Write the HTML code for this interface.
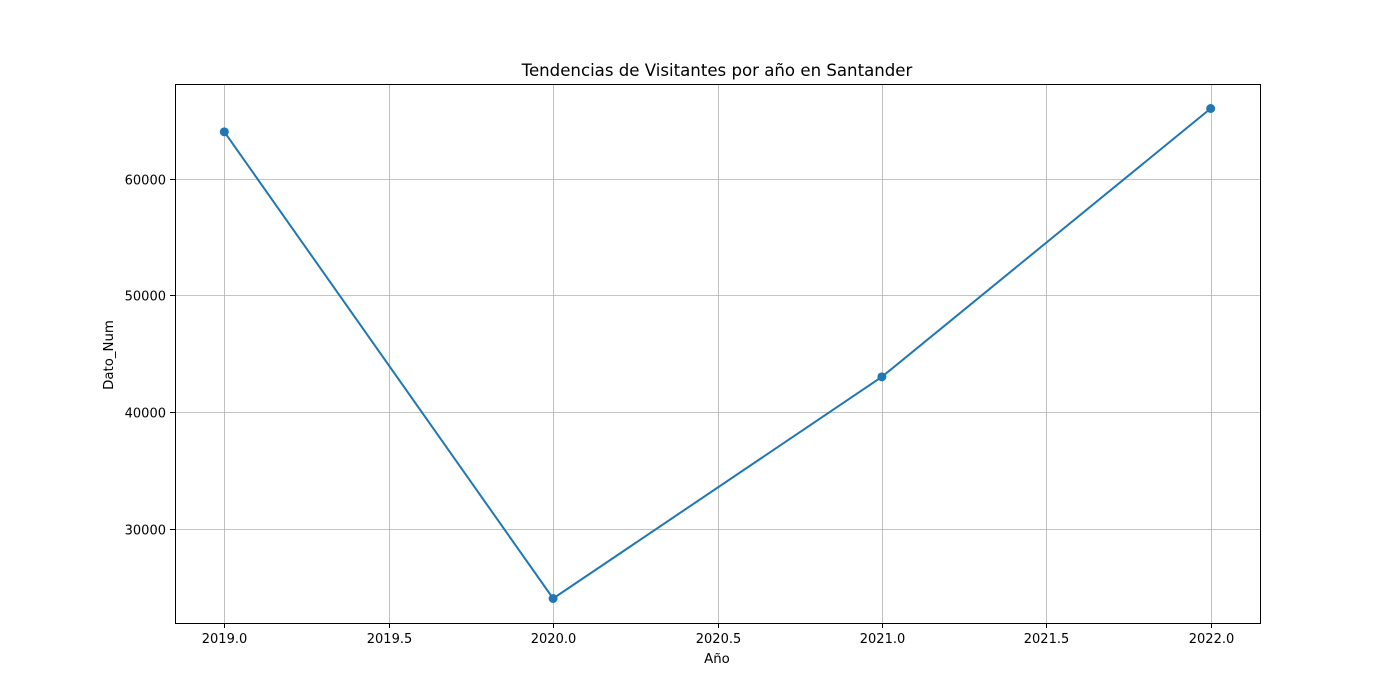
<!DOCTYPE html>
<html><head><meta charset="utf-8"><style>
body{margin:0;background:#fff;}
svg{display:block;font-family:"DejaVu Sans","Liberation Sans",sans-serif;}
</style></head><body>
<svg id="chart" width="1400" height="700">
<rect width="1400" height="700" fill="#fff"/>
<text x="717" y="76" text-anchor="middle" font-size="16.6">Tendencias de Visitantes por año en Santander</text>
<g id="grid"></g>
<g id="series"></g>
<rect x="175.5" y="84.5" width="1085" height="539" fill="none" stroke="#000" stroke-width="1"/>
<g id="xticks"></g>
<g id="yticks"></g>
<text x="717" y="663" text-anchor="middle" font-size="13.3">Año</text>
<text x="113" y="355" text-anchor="middle" font-size="13.3" transform="rotate(-90 113 355)">Dato_Num</text>
</svg>
<script>
const years=[2019,2020,2021,2022];
const visitors=[64000,24000,43000,66000];
const xTicks=[2019.0,2019.5,2020.0,2020.5,2021.0,2021.5,2022.0];
const yTicks=[30000,40000,50000,60000];
const L=175,R=1260,T=84,B=623;
const xmin=2018.85,xmax=2022.15,ymin=21900,ymax=68100;
const sx=v=>L+(v-xmin)/(xmax-xmin)*(R-L);
const sy=v=>B-(v-ymin)/(ymax-ymin)*(B-T);
const NS="http://www.w3.org/2000/svg";
function mk(tag,attrs,parent){const e=document.createElementNS(NS,tag);for(const k in attrs)e.setAttribute(k,attrs[k]);document.getElementById(parent).appendChild(e);return e;}
xTicks.forEach(t=>{const x=Math.round(sx(t))+0.5;
 const g=mk('line',{x1:x,x2:x,y1:T,y2:B,stroke:'#b0b0b0','stroke-width':0.8},'grid');
 
 
 const tk=mk('line',{x1:x,x2:x,y1:B,y2:B+5,stroke:'#000'},'xticks');
 
 
 const tx=mk('text',{x:x,y:B+20,'text-anchor':'middle','font-size':13},'xticks');
 tx.textContent=t.toFixed(1);
 
 });
yTicks.forEach(t=>{const y=Math.round(sy(t))+0.5;
 const g=mk('line',{x1:L,x2:R,y1:y,y2:y,stroke:'#b0b0b0','stroke-width':0.8},'grid');
 
 
 const tk=mk('line',{x1:L-5,x2:L,y1:y,y2:y,stroke:'#000'},'yticks');
 
 
 const tx=mk('text',{x:L-9,y:y+5,'text-anchor':'end','font-size':13},'yticks');
 tx.textContent=t;
 
 });
const pl=mk('polyline',{points:years.map((y,i)=>sx(y)+','+sy(visitors[i])).join(' '),fill:'none',stroke:'#1f77b4','stroke-width':2},'series');


years.forEach((y,i)=>{const c=mk('circle',{cx:sx(y),cy:sy(visitors[i]),r:4.5,fill:'#1f77b4'},'series');
 
 });
</script>
</body></html>
